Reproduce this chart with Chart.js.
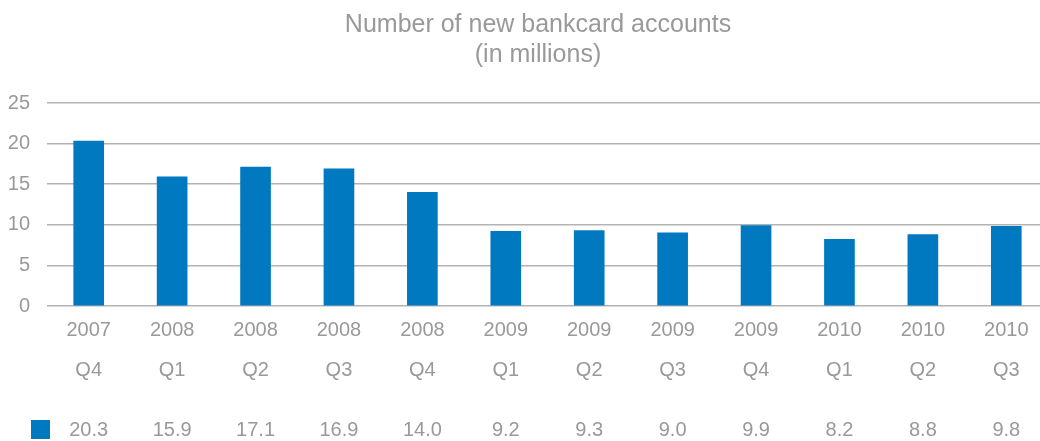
<!DOCTYPE html>
<html>
<head>
<meta charset="utf-8">
<script src="https://cdn.jsdelivr.net/npm/chart.js@4/dist/chart.umd.min.js"></script>
<style>
  html, body { margin: 0; padding: 0; background: #ffffff; overflow: hidden; }
  #wrap { position: relative; width: 1048px; height: 441px; }
</style>
</head>
<body>
<div id="wrap"><canvas id="c"></canvas></div>
<script>
const titleLines = ["Number of new bankcard accounts", "(in millions)"];
const years = ["2007", "2008", "2008", "2008", "2008", "2009", "2009", "2009", "2009", "2010", "2010", "2010"];
const quarters = ["Q4", "Q1", "Q2", "Q3", "Q4", "Q1", "Q2", "Q3", "Q4", "Q1", "Q2", "Q3"];
const newAccounts = [20.3, 15.9, 17.1, 16.9, 14.0, 9.2, 9.3, 9.0, 9.9, 8.2, 8.8, 9.8];
const yTicks = [0, 5, 10, 15, 20, 25];

const BAR = '#0079c1';
const TEXT = '#999999';
const FONT = '"Liberation Sans", Arial, sans-serif';

const labels = years.map((y, i) => [y, quarters[i]]);

const titlePlugin = {
  id: 'titleText',
  afterDraw(chart) {
    const ctx = chart.ctx;
    ctx.save();
    ctx.fillStyle = TEXT;
    ctx.font = '25px ' + FONT;
    ctx.textAlign = 'center';
    ctx.textBaseline = 'alphabetic';
    ctx.fillText(titleLines[0], 538, 32);
    ctx.fillText(titleLines[1], 538, 62);
    ctx.restore();
  }
};

const tablePlugin = {
  id: 'dataTable',
  afterDraw(chart) {
    const ctx = chart.ctx;
    const xs = chart.scales.x;
    const ds = chart.data.datasets[0];
    ctx.save();
    ctx.fillStyle = BAR;
    ctx.fillRect(31, 420, 19, 19);
    ctx.fillStyle = TEXT;
    ctx.font = '20px ' + FONT;
    ctx.textAlign = 'center';
    ctx.textBaseline = 'middle';
    ds.data.forEach((v, i) => {
      ctx.fillText(v.toFixed(1), xs.getPixelForValue(i), 430);
    });
    ctx.restore();
  }
};

new Chart(document.getElementById('c'), {
  type: 'bar',
  data: {
    labels: labels,
    datasets: [{
      label: 'New bankcard accounts',
      data: newAccounts,
      backgroundColor: BAR,
      barThickness: 30
    }]
  },
  options: {
    responsive: true,
    maintainAspectRatio: false,
    animation: false,
    layout: { padding: { top: 103, bottom: 51, left: 0, right: 0 } },
    plugins: {
      legend: { display: false },
      title: { display: false },
      tooltip: { enabled: false }
    },
    scales: {
      x: {
        afterFit(scale) { scale.height = 84; },
        grid: { display: false, drawTicks: false },
        border: { display: false },
        ticks: {
          color: TEXT,
          font: { family: FONT, size: 20, lineHeight: 2 },
          padding: 4,
          maxRotation: 0,
          autoSkip: false
        }
      },
      y: {
        min: 0,
        max: 25,
        afterFit(scale) { scale.width = 47; },
        afterBuildTicks(scale) { scale.ticks = yTicks.map(v => ({ value: v })); },
        grid: { color: '#b3b3b3', lineWidth: 1.5, drawTicks: false },
        border: { display: false },
        ticks: {
          color: TEXT,
          font: { family: FONT, size: 20 },
          padding: 17
        }
      }
    }
  },
  plugins: [titlePlugin, tablePlugin]
});
</script>
</body>
</html>
